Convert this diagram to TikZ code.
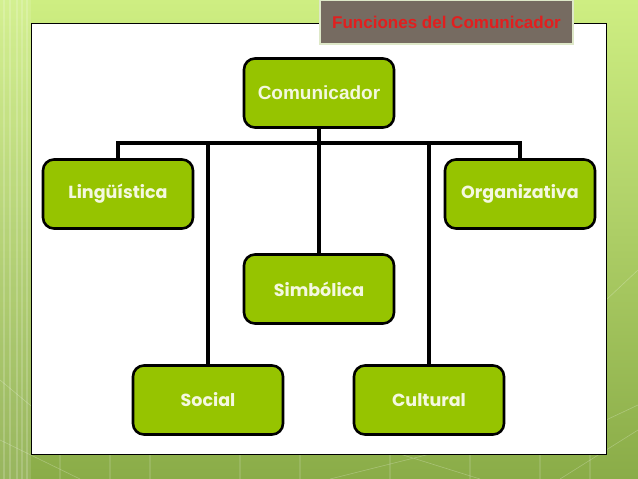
\documentclass[tikz,border=0pt]{standalone}
\usepackage{fontspec}
\setmainfont{Liberation Sans}
\newfontfamily\gothic{Poppins}
\definecolor{nodegreen}{RGB}{150,196,0}
\definecolor{txtcream}{RGB}{244,248,224}
\definecolor{titlebrown}{RGB}{118,107,97}
\definecolor{titlered}{RGB}{226,30,30}
\definecolor{bgtop}{RGB}{206,238,130}
\definecolor{bgbot}{RGB}{138,172,72}
\definecolor{titleedge}{RGB}{222,232,200}
\tikzset{
  fn/.style={draw=black, line width=2.6pt, fill=nodegreen, rounded corners=11pt,
    minimum width=150pt, minimum height=69pt, text=txtcream, font=\gothic\bfseries\fontsize{17.5}{20}\selectfont},
  bus/.style={draw=black, line width=3.2pt},
}
\begin{document}
\begin{tikzpicture}[x=1pt,y=-1pt]
\useasboundingbox (0,0) rectangle (638,479);
% background
\shade[top color=bgtop, bottom color=bgbot] (0,0) rectangle (638,479);
\fill[white, opacity=0.12] (0,0) rectangle (31,479);
\foreach \xx in {4,10,17,22,27} {\draw[white, opacity=0.18, line width=1.5pt] (\xx,0) -- (\xx,479);}
\foreach \xx in {60,110,150,240,300,390,470,540,590} {\draw[white, opacity=0.12, line width=2pt] (\xx,455) -- (\xx,479);}
\draw[white, opacity=0.25, line width=0.6pt] (0,380) -- (60,430) (0,440) -- (80,479) (330,479) -- (430,454) (480,479) -- (400,454) (606,300) -- (638,270) (606,420) -- (638,405) (560,479) -- (638,430);
% frame
\node[draw=black, line width=0.8pt, fill=white, minimum width=575pt, minimum height=431pt, inner sep=0pt] (frame) at (318.5,238.5) {};
% title
\node[draw=titleedge, line width=2.5pt, fill=titlebrown, minimum width=253pt, minimum height=44pt, inner sep=0pt,
  text=titlered, font=\bfseries\fontsize{17}{20}\selectfont] (title) at (446.5,22) {Funciones del Comunicador};
% nodes
\node[fn, font=\bfseries\fontsize{19}{22}\selectfont] (com) at (319,93) {Comunicador};
\node[fn] (lin) at (118,194) {Lingüística};
\node[fn] (org) at (520,194) {Organizativa};
\node[fn] (sim) at (319,289) {Simbólica};
\node[fn] (soc) at (208,400) {Social};
\node[fn] (cul) at (429,400) {Cultural};
% connectors
\coordinate (busL) at (118,143);
\coordinate (busR) at (520,143);
\draw[bus] (com.south) -- (sim.north);
\draw[bus] (lin.north) -- (busL) -- (busR) -- (org.north);
\draw[bus] (soc.north) -- (soc.north |- busL);
\draw[bus] (cul.north) -- (cul.north |- busL);
\end{tikzpicture}
\end{document}
